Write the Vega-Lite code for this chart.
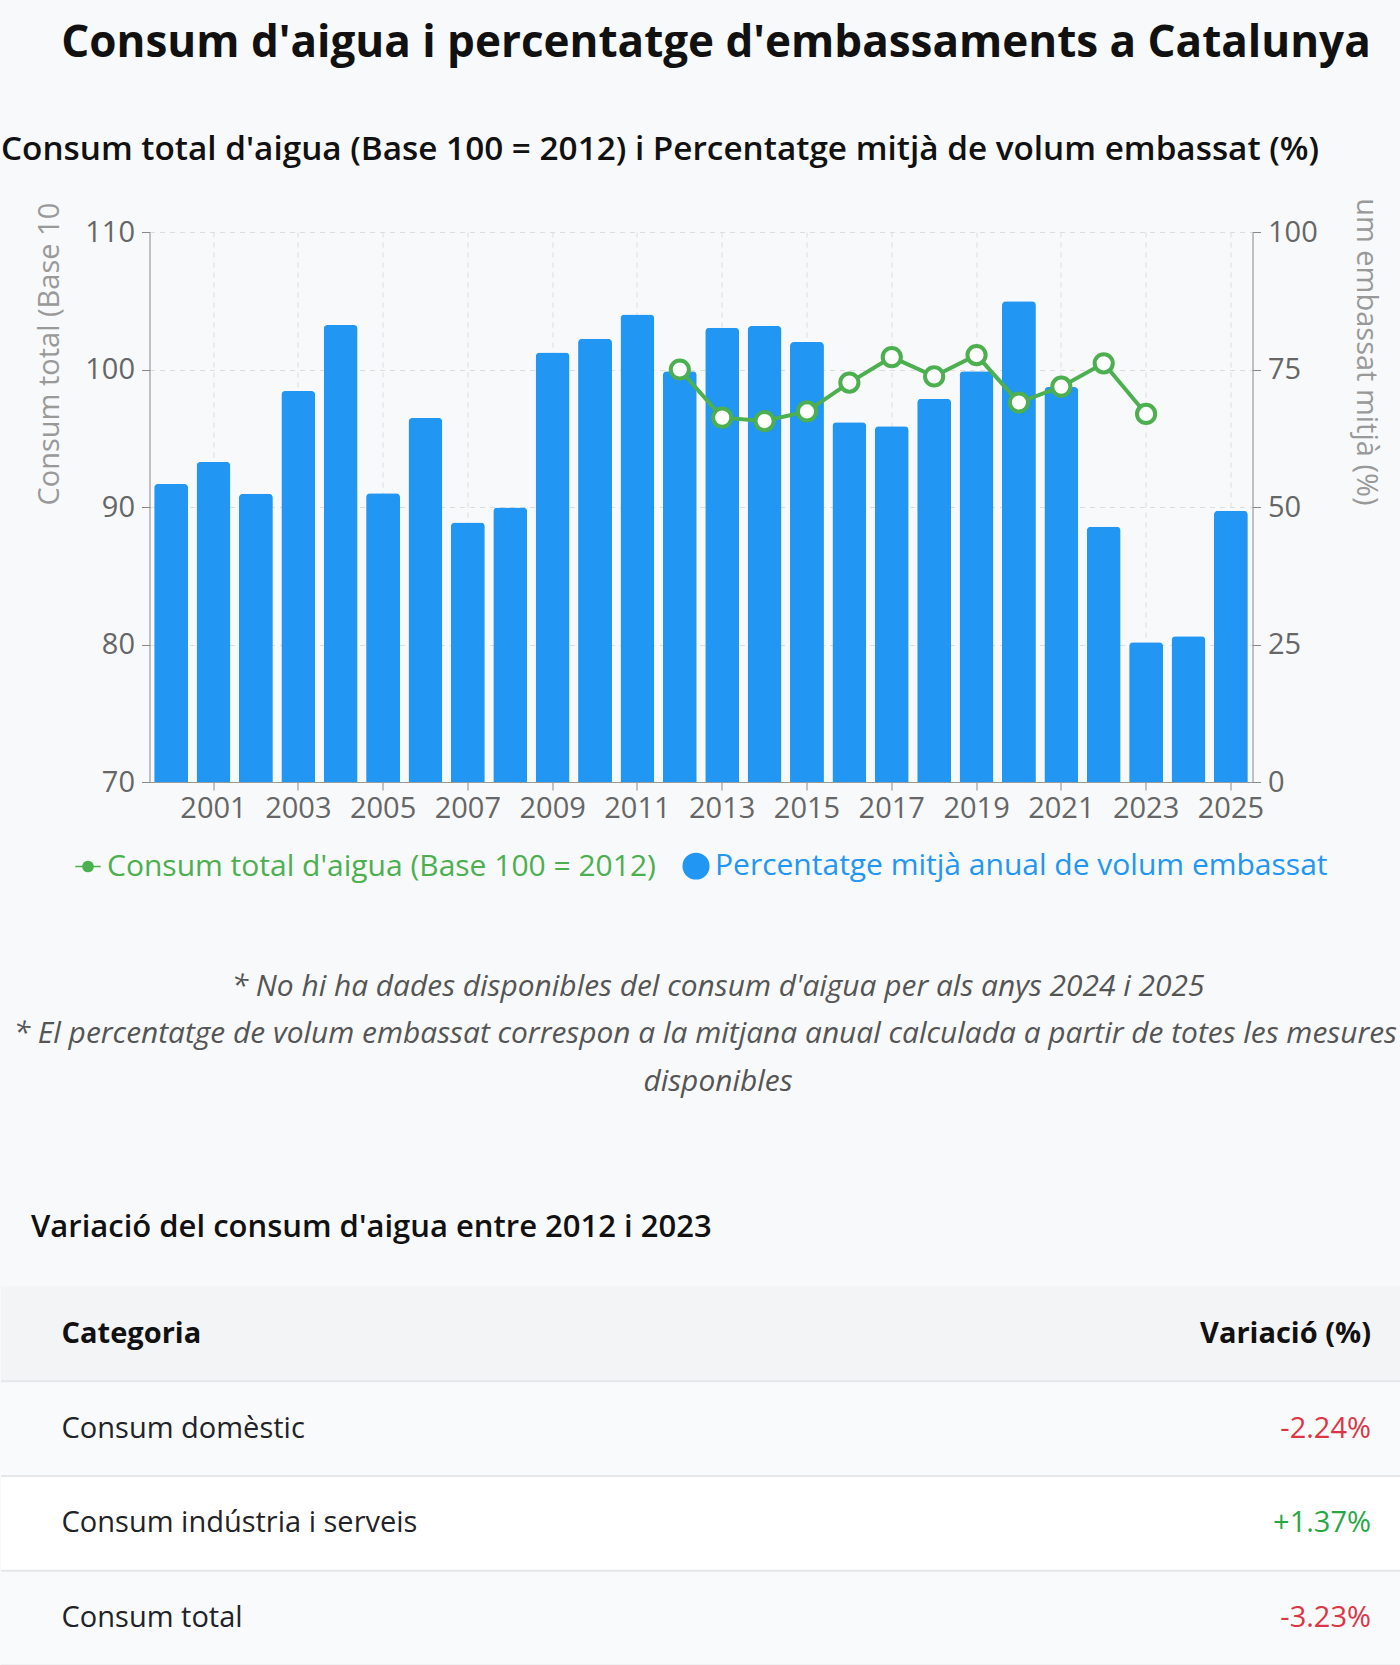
{
  "$schema": "https://vega.github.io/schema/vega-lite/v6.json",
  "background": "#f8f9fa",
  "padding": {"left": 0, "top": 22, "right": 0, "bottom": 0},
  "config": {"font": "Open Sans", "view": {"stroke": null}},
  "title": {"text": "Consum d'aigua i percentatge d'embassaments a Catalunya", "anchor": "middle", "dx": 15, "offset": 67, "fontSize": 44, "fontWeight": "bold", "color": "#111111"},
  "bounds": "flush",
  "center": true,
  "spacing": 180.75,
  "vconcat": [
    {
      "width": 1103,
      "height": 550,
      "title": {"text": "Consum total d'aigua (Base 100 = 2012) i Percentatge mitjà de volum embassat (%)", "anchor": "start", "frame": "group", "dx": -148.5, "offset": 30, "fontSize": 33.3, "fontWeight": 600, "color": "#111111"},
      "data": {"values": [
        {"any": 2000, "embassat": 54.2}, {"any": 2001, "embassat": 58.2}, {"any": 2002, "embassat": 52.4},
        {"any": 2003, "embassat": 71.1}, {"any": 2004, "embassat": 83.1}, {"any": 2005, "embassat": 52.5},
        {"any": 2006, "embassat": 66.2}, {"any": 2007, "embassat": 47.2}, {"any": 2008, "embassat": 49.9},
        {"any": 2009, "embassat": 78.1}, {"any": 2010, "embassat": 80.6}, {"any": 2011, "embassat": 85.0},
        {"any": 2012, "embassat": 74.7, "consum": 100.0}, {"any": 2013, "embassat": 82.6, "consum": 96.5},
        {"any": 2014, "embassat": 82.9, "consum": 96.25}, {"any": 2015, "embassat": 80.0, "consum": 96.95},
        {"any": 2016, "embassat": 65.4, "consum": 99.05}, {"any": 2017, "embassat": 64.7, "consum": 100.9},
        {"any": 2018, "embassat": 69.7, "consum": 99.5}, {"any": 2019, "embassat": 74.7, "consum": 101.05},
        {"any": 2020, "embassat": 87.4, "consum": 97.6}, {"any": 2021, "embassat": 71.8, "consum": 98.75},
        {"any": 2022, "embassat": 46.4, "consum": 100.45}, {"any": 2023, "embassat": 25.4, "consum": 96.77},
        {"any": 2024, "embassat": 26.5}, {"any": 2025, "embassat": 49.3}
      ]},
      "layer": [
        {
          "mark": {"type": "bar", "cornerRadiusTopLeft": 4, "cornerRadiusTopRight": 4},
          "encoding": {
            "x": {"field": "any", "type": "ordinal", "scale": {"paddingInner": 0.2, "paddingOuter": 0.11},
              "axis": {"title": null, "values": [2001, 2003, 2005, 2007, 2009, 2011, 2013, 2015, 2017, 2019, 2021, 2023, 2025], "labelAngle": 0, "labelFontSize": 29, "labelColor": "#666666", "labelPadding": 4, "tickSize": 8, "tickColor": "#888888", "domainColor": "#999999", "grid": true, "gridColor": "#dddddd", "gridDash": [5, 5], "bandPosition": 0.5}},
            "y": {"field": "embassat", "type": "quantitative", "scale": {"domain": [0, 100]},
              "axis": {"orient": "right", "values": [0, 25, 50, 75, 100], "grid": false, "title": "um embassat mitjà (%)", "titleFontSize": 29, "titleFontWeight": "normal", "titleColor": "#999999", "titleAngle": 90, "titleAlign": "right", "titleX": 97.9, "titleY": 273, "labelFontSize": 29, "labelColor": "#666666", "labelPadding": 7, "tickSize": 8, "tickColor": "#888888", "domainColor": "#888888"}},
            "color": {"datum": "Percentatge mitjà anual de volum embassat", "type": "nominal",
              "scale": {"domain": ["Consum total d'aigua (Base 100 = 2012)", "Percentatge mitjà anual de volum embassat"], "range": ["#4CAF50", "#2196F3"]},
              "legend": {"orient": "none", "legendX": 72, "legendY": 619, "direction": "horizontal", "title": null, "labelLimit": 1000, "labelFontSize": 30, "symbolSize": 650, "columnPadding": 24,
                "encode": {"labels": {"update": {"fill": {"scale": "color", "field": "value"}}},
                  "symbols": {"update": {"shape": {"signal": "indexof(datum.value, 'Consum') === 0 ? 'M-1,0L-0.4,0M0.4,0L1,0M0.4,0A0.4,0.4,0,1,1,-0.4,0A0.4,0.4,0,1,1,0.4,0Z' : 'circle'"}}}}}}
          }
        },
        {
          "transform": [{"filter": "isValid(datum.consum)"}],
          "encoding": {"x": {"field": "any", "type": "ordinal"},
            "y": {"field": "consum", "type": "quantitative", "scale": {"domain": [70, 110]},
              "axis": {"orient": "left", "values": [70, 80, 90, 100, 110], "title": "Consum total (Base 10", "titleFontSize": 29, "titleFontWeight": "normal", "titleColor": "#999999", "titleAngle": -90, "titleAlign": "left", "titleX": -85.5, "titleY": 273, "labelFontSize": 29, "labelColor": "#666666", "labelPadding": 7, "tickSize": 8, "tickColor": "#888888", "domainColor": "#888888", "grid": true, "gridColor": "#dddddd", "gridDash": [5, 5]}}},
          "layer": [
            {"mark": {"type": "line", "strokeWidth": 4}, "encoding": {"color": {"datum": "Consum total d'aigua (Base 100 = 2012)", "type": "nominal"}}},
            {"mark": {"type": "point", "filled": true, "fill": "#ffffff", "stroke": "#4CAF50", "strokeWidth": 4, "size": 330, "opacity": 1}}
          ]
        }
      ],
      "resolve": {"scale": {"y": "independent"}}
    },
    {
      "width": 1400,
      "height": 142.5,
      "data": {"values": [
        {"linia": 1, "nota": "* No hi ha dades disponibles del consum d'aigua per als anys 2024 i 2025"},
        {"linia": 2, "nota": "* El percentatge de volum embassat correspon a la mitjana anual calculada a partir de totes les mesures"},
        {"linia": 3, "nota": "disponibles"}
      ]},
      "encoding": {"y": {"field": "linia", "type": "ordinal", "axis": null}, "text": {"field": "nota"}},
      "layer": [
        {"transform": [{"filter": "datum.linia !== 2"}], "mark": {"type": "text", "fontStyle": "italic", "fontSize": 29.9, "color": "#555555", "dx": 17}},
        {"transform": [{"filter": "datum.linia === 2"}], "mark": {"type": "text", "fontStyle": "italic", "fontSize": 29.9, "color": "#555555", "align": "left", "dx": -687.3}}
      ]
    },
    {
      "width": 1400,
      "height": 379,
      "title": {"text": "Variació del consum d'aigua entre 2012 i 2023", "anchor": "start", "frame": "group", "dx": 30, "offset": 43, "fontSize": 31, "fontWeight": 600, "color": "#111111"},
      "data": {"values": [
        {"ordre": 1, "esq": "Categoria", "dreta": "Variació (%)", "tipus": "capcalera"},
        {"ordre": 2, "esq": "Consum domèstic", "dreta": "-2.24%", "tipus": "negatiu"},
        {"ordre": 3, "esq": "Consum indústria i serveis", "dreta": "+1.37%", "tipus": "positiu"},
        {"ordre": 4, "esq": "Consum total", "dreta": "-3.23%", "tipus": "negatiu"}
      ]},
      "encoding": {"y": {"field": "ordre", "type": "ordinal", "axis": null, "scale": {"paddingInner": 0, "paddingOuter": 0}}},
      "layer": [
        {"transform": [{"filter": "datum.tipus === 'capcalera'"}], "mark": {"type": "rect", "color": "#f3f4f6"}, "encoding": {}},
        {"transform": [{"filter": "datum.tipus === 'negatiu'"}], "mark": {"type": "rect", "color": "#f9fafb"}, "encoding": {}},
        {"transform": [{"filter": "datum.tipus === 'positiu'"}], "mark": {"type": "rect", "color": "#ffffff"}, "encoding": {}},
        {"mark": {"type": "rule", "color": "#e5e7eb", "strokeWidth": 2, "yOffset": 47.4}, "encoding": {}},
        {"transform": [{"filter": "datum.tipus === 'capcalera'"}], "mark": {"type": "text", "align": "left", "dx": -639.4, "fontSize": 29, "fontWeight": "bold", "color": "#111111"}, "encoding": {"text": {"field": "esq"}}},
        {"transform": [{"filter": "datum.tipus === 'capcalera'"}], "mark": {"type": "text", "align": "right", "dx": 670, "fontSize": 29, "fontWeight": "bold", "color": "#111111"}, "encoding": {"text": {"field": "dreta"}}},
        {"transform": [{"filter": "datum.tipus !== 'capcalera'"}], "mark": {"type": "text", "align": "left", "dx": -639.4, "fontSize": 29, "color": "#1f2328"}, "encoding": {"text": {"field": "esq"}}},
        {"transform": [{"filter": "datum.tipus === 'negatiu'"}], "mark": {"type": "text", "align": "right", "dx": 670, "fontSize": 29, "color": "#dc3545"}, "encoding": {"text": {"field": "dreta"}}},
        {"transform": [{"filter": "datum.tipus === 'positiu'"}], "mark": {"type": "text", "align": "right", "dx": 670, "fontSize": 29, "color": "#28a745"}, "encoding": {"text": {"field": "dreta"}}}
      ]
    }
  ]
}
